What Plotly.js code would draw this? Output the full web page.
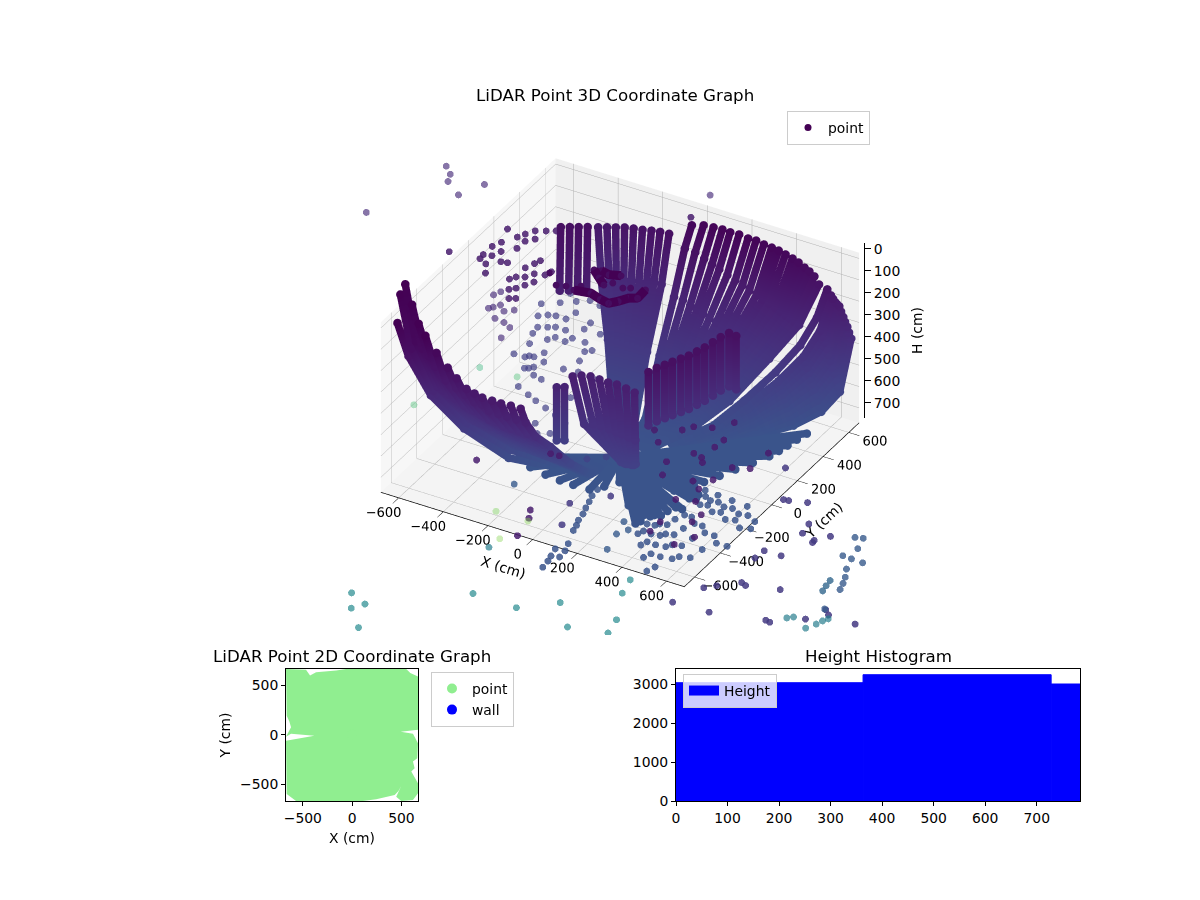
<!DOCTYPE html>
<html>
<head>
<meta charset="utf-8">
<script src="https://cdn.plot.ly/plotly-3.0.1.min.js"></script>
<style>body{margin:0;background:#fff}</style>
</head>
<body>
<div id="graph" style="width:1200px;height:900px"></div>
<script>
/* ---------------- 3D: scan fans, null splits one fan from the next ---------------- */
const shortX = [-529,-404,null,-499,-374,null,-469,-344,null,-439,-314];
const shortY = [457,232,null,475,250,null,492,267,null,510,285];
const shortH = [120,250,null,120,250,null,120,250,null,120,250];

const backX = [
  -467,-397,-257,-140,-47,null,
  -427,-363,-235,-128,-43,null,
  -388,-330,-213,-116,-39,null,
  -348,-296,-191,-104,-35,null,
  -308,-262,-169,-92,-31,null,
  -268,-228,-147,-80,-27,null,
  -228,-194,-125,-68,-23,null,
  -189,-161,-104,-57,-19,null,
  -149,-127,-82,-45,-15];
const backY = [
  640,544,352,192,64,null,640,544,352,192,64,null,640,544,352,192,64,null,
  640,544,352,192,64,null,640,544,352,192,64,null,640,544,352,192,64,null,
  640,544,352,192,64,null,640,544,352,192,64,null,640,544,352,192,64];
const backH = [
  204,379,500,730,765,null,
  191,366,500,730,765,null,
  179,354,500,730,765,null,
  166,341,500,730,765,null,
  158,333,500,730,765,null,
  151,326,500,730,765,null,
  142,317,500,730,765,null,
  135,310,500,730,765,null,
  131,306,500,730,765];

const rightX = [
  -47,-42,-35,-26,-16,-7,null,
  6,5,5,3,2,1,null,
  50,45,38,28,18,8,null,
  90,81,68,50,32,14,null,
  125,113,94,69,44,19,null,
  165,149,124,91,58,25,null,
  205,185,154,113,72,31,null,
  241,217,181,133,84,36,null,
  276,248,207,152,97,41,null,
  311,280,233,171,109,47,null,
  342,308,257,188,120,51,null,
  373,336,280,205,131,56,null,
  404,364,303,222,141,61,null,
  431,388,323,237,151,65,null,
  458,412,344,252,160,69,null,
  480,432,360,264,168,72,null,
  502,452,377,276,176,75,null,
  523,471,392,288,183,78];
const rightY = [
  640,576,480,352,224,96,null,640,576,480,352,224,96,null,640,576,480,352,224,96,null,
  640,576,480,352,224,96,null,640,576,480,352,224,96,null,640,576,480,352,224,96,null,
  640,576,480,352,224,96,null,640,576,480,352,224,96,null,640,576,480,352,224,96,null,
  640,576,480,352,224,96,null,640,576,480,352,224,96,null,640,576,480,352,224,96,null,
  640,576,480,352,224,96,null,640,576,480,352,224,96,null,640,576,480,352,224,96,null,
  640,576,480,352,224,96,null,640,576,480,352,224,96,null,640,576,480,352,224,96];
const rightH = [
  58,130,300,500,720,760,null,
  41,132,302,501,720,760,null,
  36,149,315,511,719,760,null,
  33,162,326,519,718,760,null,
  35,176,336,526,718,760,null,
  32,191,348,535,717,760,null,
  38,204,359,543,716,760,null,
  36,217,369,551,715,760,null,
  43,231,380,558,715,760,null,
  46,242,389,565,714,760,null,
  50,254,398,572,714,760,null,
  58,265,407,578,713,760,null,
  67,276,416,585,712,760,null,
  77,286,423,590,712,760,null,
  92,297,432,597,711,760,null,
  103,305,438,601,711,760,null,
  119,312,444,606,710,760,null,
  150,320,450,610,710,760];

const cornerX = [
  560,532,487,420,336,252,140,null,
  575,546,500,431,345,259,144,null,
  582,553,506,437,350,262,146,null,
  590,561,513,443,354,266,148,null,
  597,568,519,448,358,269,149,null,
  605,575,526,454,363,272,151,null,
  612,582,532,459,367,275,153,null,
  620,589,539,465,372,279,155,null,
  627,596,545,470,376,282,157,null,
  635,603,552,476,381,286,159,null,
  642,610,558,482,385,289,161,null,
  650,618,566,488,390,293,163];
const cornerY = [
  640,608,557,480,384,288,160,null,
  642,610,559,482,385,289,161,null,
  646,614,562,485,388,291,162,null,
  650,618,566,488,390,293,163,null,
  652,620,568,490,391,294,163,null,
  655,622,570,491,393,295,164,null,
  657,624,572,493,394,296,164,null,
  660,627,574,495,396,297,165,null,
  662,629,576,497,397,298,165,null,
  665,632,579,499,399,299,166,null,
  667,634,581,501,400,300,167,null,
  670,637,583,503,402,302,168];
const cornerH = [
  161,285,400,505,610,700,750,null,
  185,341,450,545,635,711,753,null,
  201,369,475,565,648,716,755,null,
  217,397,500,585,660,722,756,null,
  225,424,525,605,674,728,757,null,
  234,452,550,625,688,734,759,null,
  258,480,575,645,701,739,760,null,
  282,508,600,665,715,745,762,null,
  304,536,625,685,727,750,763,null,
  326,564,650,705,740,756,765,null,
  352,592,675,725,752,762,766,null,
  379,620,700,745,765,768,768];

const leftX = [
  -73,-69,-62,-51,-37,-22,-9,null,
  -117,-111,-99,-82,-59,-35,-14,null,
  -161,-153,-137,-113,-81,-48,-19,null,
  -201,-191,-171,-141,-101,-60,-24,null,
  -245,-233,-208,-172,-123,-74,-29,null,
  -280,-266,-238,-196,-140,-84,-34,null,
  -316,-300,-269,-221,-158,-95,-38,null,
  -360,-342,-306,-252,-180,-108,-43,null,
  -400,-380,-340,-280,-200,-120,-48,null,
  -450,-428,-383,-315,-225,-135,-54,null,
  -500,-475,-425,-350,-250,-150,-60,null,
  -530,-504,-451,-371,-265,-159,-64,null,
  -560,-532,-476,-392,-280,-168,-67,null,
  -590,-561,-502,-413,-295,-177,-71,null,
  -612,-581,-520,-428,-306,-184,-73,null,
  -625,-594,-531,-438,-313,-188,-75];
const leftY = [
  -647,-615,-550,-453,-324,-194,-78,null,-647,-615,-550,-453,-324,-194,-78,null,
  -647,-615,-550,-453,-324,-194,-78,null,-647,-615,-550,-453,-324,-194,-78,null,
  -647,-615,-550,-453,-324,-194,-78,null,-647,-615,-550,-453,-324,-194,-78,null,
  -647,-615,-550,-453,-324,-194,-78,null,-647,-615,-550,-453,-324,-194,-78,null,
  -647,-615,-550,-453,-324,-194,-78,null,-647,-615,-550,-453,-324,-194,-78,null,
  -647,-615,-550,-453,-324,-194,-78,null,-647,-615,-550,-453,-324,-194,-78,null,
  -647,-615,-550,-453,-324,-194,-78,null,-647,-615,-550,-453,-324,-194,-78,null,
  -647,-615,-550,-453,-324,-194,-78,null,-647,-615,-550,-453,-324,-194,-78];
const leftH = [
  199,280,380,480,625,745,768,null,
  199,280,380,480,625,745,768,null,
  203,280,380,480,625,745,768,null,
  203,280,380,480,625,745,768,null,
  203,280,380,480,625,745,768,null,
  195,260,370,480,625,740,768,null,
  185,260,370,480,625,740,768,null,
  150,240,360,478,623,738,768,null,
  113,220,350,475,622,737,768,null,
  60,200,340,470,620,735,768,null,
  -4,150,320,470,620,735,768,null,
  -50,110,310,470,620,730,768,null,
  -130,85,300,470,620,728,768,null,
  -216,60,290,466,620,725,768,null,
  -161,100,315,490,650,745,768,null,
  -23,140,340,520,690,765,770];

const nearX = [-106,-106,null,-80,-80,null,-53,26,179,null,-27,56,192,null,7,90,202,null,48,128,209,null,88,162,216,null,125,189,226,null,170,223,233,null,214,257,236];
const nearY = [-309,-309,null,-293,-293,null,-277,-325,-304,null,-254,-308,-305,null,-242,-305,-307,null,-244,-308,-303,null,-246,-314,-300,null,-242,-315,-302,null,-249,-321,-298,null,-258,-327,-288];
const nearH = [300,549,null,300,549,null,250,420,560,null,250,420,560,null,250,420,560,null,250,420,560,null,250,420,560,null,250,420,560,null,250,420,560,null,250,420,560];

const blockX = [286,286,null,299,299,null,315,315,null,330,330,null,347,347,null,363,363,null,375,375,null,387,387,null,396,396,null,404,404,null,417,417,null,452,452];
const blockY = [-276,-276,null,-234,-234,null,-199,-199,null,-165,-165,null,-129,-129,null,-95,-95,null,-53,-53,null,-13,-13,null,35,35,null,82,82,null,124,124,null,119,119];
const blockH = [120,370,null,120,370,null,120,370,null,120,370,null,120,370,null,120,370,null,120,370,null,120,370,null,120,370,null,120,370,null,120,370,null,120,370];

const floorX = [
  288,29,null,296,30,null,285,29,null,312,31,null,321,32,null,345,35,null,351,35,null,
  366,37,null,393,39,null,379,38,null,403,40,null,370,37,null,396,40,null,350,35,null,
  370,37,null,430,43,null,497,50,null,520,52,null,542,54,null,
  11,1,null,-121,-12,null,86,9,null,117,12,null,250,25,null,300,30,null,
  -268,-27,null,-190,-19,null,-60,-6,null,50,5,null,-340,-34,null,
  400,40,null,465,47,null,510,51,null,530,53,null,330,33,null,300,30,null,270,27,null,200,20];
const floorY = [
  -380,-38,null,-356,-36,null,-313,-31,null,-307,-31,null,-291,-29,null,-282,-28,null,-240,-24,null,
  -201,-20,null,-200,-20,null,-119,-12,null,-110,-11,null,-66,-7,null,-79,-8,null,-33,-3,null,
  11,1,null,150,15,null,298,30,null,400,40,null,512,51,null,
  -257,-26,null,-258,-26,null,-154,-15,null,-51,-5,null,-250,-25,null,-100,-10,null,
  -233,-23,null,-250,-25,null,-260,-26,null,-210,-21,null,-190,-19,null,
  80,8,null,225,23,null,350,35,null,455,46,null,-60,-6,null,-160,-16,null,-210,-21,null,-280,-28];
const floorH = [
  770,770,null,770,770,null,770,770,null,770,770,null,770,770,null,770,770,null,770,770,null,
  770,770,null,770,770,null,770,770,null,770,770,null,770,770,null,770,770,null,770,770,null,
  770,770,null,770,770,null,770,770,null,770,770,null,770,770,null,
  770,770,null,770,770,null,770,770,null,770,770,null,770,770,null,770,770,null,
  770,770,null,770,770,null,770,770,null,770,770,null,770,770,null,
  770,770,null,770,770,null,770,770,null,770,770,null,770,770,null,770,770,null,770,770,null,770,770];

const crescentX = [-243,-175,-121,-79,-54,-30,0,-3,null,-248,-202,-161,null,-221,-180,-136];
const crescentY = [63,77,57,48,79,119,136,203,null,229,188,153,null,237,227,244];
const crescentH = [100,100,100,100,100,100,100,100,null,100,100,100,null,100,100,100];

/* ---------------- 3D: single points ---------------- */
const gridX = [
  497,437,383,333,288, 510,449,393,342,296, 491,432,378,329,285, 538,473,414,360,312,
  554,488,427,371,321, 595,524,458,399,345, 606,533,467,406,351, 631,555,486,423,366,
  678,597,522,454,393, 654,576,504,438,379, 695,612,535,466,403, 638,561,491,427,370,
  683,601,526,458,396, 603,531,464,404,350,
  133,128,120,109,153,149,134,104,96,84,77,65,54,42,38];
const gridY = [
  -655,-576,-504,-439,-380, -613,-539,-472,-411,-356, -539,-474,-415,-361,-313, -529,-466,-407,-354,-307,
  -502,-442,-387,-336,-291, -487,-429,-375,-326,-282, -413,-363,-318,-277,-240, -346,-304,-266,-232,-201,
  -345,-304,-266,-231,-200, -206,-181,-159,-138,-119, -190,-167,-146,-127,-110, -113,-99,-87,-76,-66,
  -137,-121,-105,-92,-79, -57,-50,-44,-38,-33,
  -833,-784,-746,-694,-736,-687,-636,-544,-506,-470,-423,-379,-334,-291,-242];
const gridH = [
  770,770,770,770,770, 770,770,770,770,770, 770,770,770,770,770, 770,770,770,770,770,
  770,770,770,770,770, 770,770,770,770,770, 770,770,770,770,770, 770,770,770,770,770,
  770,770,770,770,770, 770,770,770,770,770, 770,770,770,770,770, 770,770,770,770,770,
  770,770,770,770,770, 770,770,770,770,770,
  770,770,770,770,770,770,770,770,770,770,770,770,770,770,770];

const clusterX = [-243,-234,-175,-121,-79,-54,-30,0,-3,-248,-202,-161,-180,-221,-136,-138,-86,-284,-387,-60,-321];
const clusterY = [63,102,77,57,48,79,119,136,203,229,188,153,227,237,244,183,171,73,123,186,60];
const clusterH = [100,100,100,100,100,100,100,100,100,100,100,100,100,100,100,100,100,100,100,100,100];

const darkX = [
  -896,-781,-644,-611,-681,-652,-703,-678,-719,-680,-754,-722,-686,-770,-738,-771,-767,-729,-697,-660,
  -557,-566,-530,-502,-582,-550,-521,-580,-540,-504,-595,-560,-527,-490,-480,
  435,491,589,623,651,692,713,747,811,831,895,901,699,704,677,621,555,528,796,755,829,896,784,783,891,954,912,
  -56,304,329,353,170,207,-206];
const darkY = [
  226,480,543,563,522,471,483,438,449,378,386,328,264,342,284,274,242,221,163,270,
  347,317,253,201,273,215,164,198,128,64,172,107,50,267,299,
  -487,-556,-661,-751,-556,-567,-597,-730,-684,-570,-542,-410,-477,-415,-286,-361,-391,-433,-769,-878,-852,-924,-1048,-1126,-986,-1077,-1161,
  -1019,-1226,-1280,-1411,-836,-832,909];
const darkH = [
  224,224,224,224,224,224,224,224,224,224,224,224,224,224,224,224,224,224,224,224,
  224,224,224,224,224,224,224,224,224,224,224,224,224,224,224,
  224,224,224,224,224,224,224,224,224,224,224,224,224,224,224,224,224,224,224,224,224,224,224,224,224,224,224,
  224,224,224,224,224,224,224];

const lilacX = [-1420,-1317,-1274,-1256,-1173,-1123,-325,-683,-636,-696,-653,-607,-602,-562,-572,-524,-665,-516];
const lilacY = [491,934,891,842,779,894,1265,257,174,224,147,80,142,72,169,52,131,-29];
const lilacH = [360,360,360,360,360,360,360,360,360,360,360,360,360,360,360,360,360,360];

const echoX = [
  -657,-624,-585,-594,-551,-508,-564,-525,-489,-519,-480,-441,-579,-553,-510,-468,-521,-482,-491,-455,-426,-471,-439,-569,
  -385,-437,-428,-421,-371,-339,-318,-323,-349,-354,-422,-547,-508,-636,-597,-596,-504,-453,-362,-348,-287,-208,
  -374,-327,-268,-210,-148,-221,-152,-75,-13,-248,-162,-205,54,111];
const echoY = [
  527,445,374,470,393,316,480,409,345,480,409,338,326,256,179,101,164,93,182,118,67,227,169,162,
  56,-33,372,452,371,313,334,245,451,517,503,609,538,641,570,648,642,629,572,163,173,159,
  -65,-88,-114,-139,-171,-1,-46,-103,-135,-229,-264,-290,-351,-301];
const echoH = [
  560,560,560,560,560,560,560,560,560,560,560,560,560,560,560,560,560,560,560,560,560,560,560,560,
  560,560,560,560,560,560,560,560,560,560,560,560,560,560,560,560,560,560,560,560,560,560,
  560,560,560,560,560,560,560,560,560,560,560,560,560,560];

const nearDotX = [899,952,988,1058,1061,1085,1216,1023,1098,1018,1154,1156,1089,1077,996,925,904,797,1194,1277,1298,1407,1442,1470,1592,249,198,310,450];
const nearDotY = [-1152,-1002,-964,-1144,-896,-907,-865,-654,-653,-717,-493,-509,-471,-401,-270,-294,-298,-97,-436,-1084,-1089,-1000,-903,-930,-935,-884,-735,-611,-1720];
const nearDotH = [504,504,504,504,504,504,504,504,504,504,504,504,504,504,504,504,504,504,504,504,504,504,504,504,504,504,504,504,504];

const farX = [189,208,233,232,-315,1178,1088,1048,1140,1073,1023,1054,1108,1133,1148,1160,999,992,987];
const farY = [-298,-389,-341,-503,-277,-453,-89,-86,-92,-13,52,62,-162,-215,-258,-302,-158,-119,-79];
const farH = [840,840,840,840,840,840,840,840,840,840,840,840,840,840,840,840,980,980,980];

const tealX = [-495,761,780,861,882,892,904,-901,-816,-847,-753,-490,-293,-164,-52,87,106,11,-10];
const tealY = [-161,-24,-5,-51,-5,27,51,-525,-569,-621,-728,-294,-298,-181,-319,-179,-278,-2,96];
const tealH = [1260,1260,1260,1260,1260,1260,1260,1400,1400,1400,1400,1400,1400,1400,1400,1400,1400,1400,1400];

const limeX = [-1902,-1655,-1707,-1458,-1358,-1390];
const limeY = [1698,2072,1872,1566,1641,1477];
const limeH = [2100,2100,1960,2380,2436,2436];

/* ---------------- 2D outline and histogram ---------------- */
const blobX = [-671,-468,-427,-366,-163,-61,549,590,668,668,492,617,668,661,617,634,600,668,668,617,498,447,498,470,431,244,108,-569,-664,-671,-383,-502,-620,-671,-620,-637,-664,-671];
const blobY = [668,661,603,634,654,668,668,627,593,51,31,10,-85,-237,-271,-339,-373,-492,-593,-661,-671,-627,-519,-570,-610,-654,-671,-671,-600,-61,-10,-3,10,-20,78,136,193,668];

const histLeft = [0, 363, 728];
const histWidth = [363, 365, 56];
const histCount = [3033, 3238, 3000];

const heightTicks = [0, 100, 200, 300, 400, 500, 600, 700];

/* ---------------- traces ---------------- */
const fanX = [].concat(shortX, [null], backX, [null], rightX, [null], cornerX, [null], leftX, [null], nearX, [null], blockX, [null], floorX);
const fanY = [].concat(shortY, [null], backY, [null], rightY, [null], cornerY, [null], leftY, [null], nearY, [null], blockY, [null], floorY);
const fanH = [].concat(shortH, [null], backH, [null], rightH, [null], cornerH, [null], leftH, [null], nearH, [null], blockH, [null], floorH);

const CMAX = 3000;
function dots(x, y, z, opacity) {
  return { type: "scatter3d", mode: "markers", x, y, z, scene: "scene2", showlegend: false, hoverinfo: "skip",
    marker: { size: 4, color: z, colorscale: "Viridis", cmin: 0, cmax: CMAX, opacity, line: { width: 0 } } };
}

const font = { family: "DejaVu Sans", size: 13.9, color: "#000" };
const tick3d = { family: "DejaVu Sans", size: 12.5, color: "#000" };
const titleFont = { family: "DejaVu Sans", size: 16.7, color: "#000" };

const traces = [
  { type: "scatter3d", mode: "markers", x: [0], y: [0], z: [300], scene: "scene", showlegend: false, hoverinfo: "skip",
    marker: { size: 1, opacity: 0 } },
  { type: "scatter3d", mode: "lines+markers", x: fanX, y: fanY, z: fanH, scene: "scene2", showlegend: false, hoverinfo: "skip",
    connectgaps: false, line: { width: 15, color: fanH, colorscale: "Viridis", cmin: 0, cmax: CMAX },
    marker: { size: 5, color: fanH, colorscale: "Viridis", cmin: 0, cmax: CMAX, line: { width: 0 } } },
  { type: "scatter3d", mode: "lines", x: crescentX, y: crescentY, z: crescentH, scene: "scene2", showlegend: false, hoverinfo: "skip",
    connectgaps: false, line: { width: 18, color: "#440154" } },
  dots(gridX, gridY, gridH, 0.85),
  dots(echoX, echoY, echoH, 0.7),
  dots(darkX, darkY, darkH, 0.85),
  dots(clusterX, clusterY, clusterH, 1),
  dots(lilacX, lilacY, lilacH, 0.65),
  dots(nearDotX, nearDotY, nearDotH, 0.85),
  dots(farX, farY, farH, 0.8),
  dots(tealX, tealY, tealH, 0.7),
  dots(limeX, limeY, limeH, 0.4),
  { type: "scatter", x: [null], y: [null], mode: "markers", name: "point", legend: "legend",
    marker: { color: "#440154", size: 7 }, xaxis: "x3", yaxis: "y3" },
  { type: "scatter", x: blobX, y: blobY, fill: "toself", fillcolor: "#90ee90", mode: "lines",
    line: { width: 0 }, showlegend: false, hoverinfo: "skip", xaxis: "x", yaxis: "y" },
  { type: "scatter", x: [0], y: [0], mode: "markers", name: "point", legend: "legend2",
    marker: { color: "#90ee90", size: 10 }, xaxis: "x", yaxis: "y" },
  { type: "scatter", x: [null], y: [null], mode: "markers", name: "wall", legend: "legend2",
    marker: { color: "blue", size: 10 }, xaxis: "x", yaxis: "y" },
  { type: "bar", x: histLeft, y: histCount, width: histWidth, offset: 0, showlegend: false, hoverinfo: "skip",
    marker: { color: "blue", line: { color: "blue", width: 1 } }, xaxis: "x2", yaxis: "y2" },
  { type: "scatter", x: [null], y: [null], mode: "lines", name: "Height", legend: "legend3",
    line: { color: "blue", width: 10 }, xaxis: "x2", yaxis: "y2" }
];

const axis3d = { showspikes: false, gridcolor: "#b0b0b0", gridwidth: 1, showbackground: true, linecolor: "#000", linewidth: 1.5,
  ticks: "outside", tickcolor: "#000", ticklen: 12, tickfont: tick3d, tickangle: 0, zeroline: false, showline: true };
const hidden3d = { visible: false, showspikes: false };
const axis2d = { ticks: "outside", ticklen: 4, tickcolor: "#000", mirror: true, showline: true, linecolor: "#000",
  linewidth: 1, showgrid: false, zeroline: false, tickfont: font };
const camera = { eye: { x: 0.72, y: -1.25, z: 0.926 }, center: { x: 0, y: 0, z: 0 }, up: { x: 0, y: 0, z: 1 },
  projection: { type: "orthographic" } };
const sceneDomain = { x: [347 / 1200, 893 / 1200], y: [265 / 900, 790 / 900] };
const legendBox = { bgcolor: "rgba(255,255,255,0.8)", bordercolor: "#ccc", borderwidth: 1, xanchor: "left", yanchor: "top", font };
const titleNote = { xref: "paper", yref: "paper", showarrow: false, font: titleFont, xanchor: "center", yanchor: "middle" };

const layout = {
  width: 1200, height: 900, margin: { l: 0, r: 0, t: 0, b: 0 }, paper_bgcolor: "#fff", plot_bgcolor: "#fff", font,
  annotations: [
    { ...titleNote, text: "LiDAR Point 3D Coordinate Graph", x: 615 / 1200, y: 1 - 95 / 900 },
    { ...titleNote, text: "LiDAR Point 2D Coordinate Graph", x: 352 / 1200, y: 1 - 656 / 900 },
    { ...titleNote, text: "Height Histogram", x: 878 / 1200, y: 1 - 656 / 900 }
  ],
  legend: { ...legendBox, x: 787 / 1200, y: 1 - 111 / 900 },
  legend2: { ...legendBox, x: 431 / 1200, y: 1 - 672 / 900 },
  legend3: { ...legendBox, x: 683 / 1200, y: 1 - 674 / 900 },
  scene: {
    domain: sceneDomain, aspectmode: "manual", aspectratio: { x: 1.334, y: 1.334, z: 0.77 }, camera,
    xaxis: { ...axis3d, range: [-680, 680], title: { text: "X (cm)", font }, dtick: 200, backgroundcolor: "#f7f7f7" },
    yaxis: { ...axis3d, range: [-680, 680], title: { text: "Y (cm)", font }, dtick: 200, backgroundcolor: "#f0f0f0" },
    zaxis: { ...axis3d, range: [770, -27], title: { text: "" }, dtick: 100, showline: false, showticklabels: false, ticks: "", backgroundcolor: "#f4f4f4" }
  },
  scene2: {
    domain: sceneDomain, aspectmode: "manual", aspectratio: { x: 8.004, y: 8.004, z: 4.62 }, camera, bgcolor: "rgba(0,0,0,0)",
    xaxis: { ...hidden3d, range: [-4080, 4080] },
    yaxis: { ...hidden3d, range: [-4080, 4080] },
    zaxis: { ...hidden3d, range: [2762.5, -2019.5] }
  },
  xaxis: { ...axis2d, domain: [286 / 1200, 418 / 1200], range: [-671, 668], anchor: "y", tickvals: [-500, 0, 500],
    ticktext: ["\u2212500", "0", "500"], title: { text: "X (cm)", font, standoff: 8 } },
  yaxis: { ...axis2d, domain: [99 / 900, 231 / 900], range: [-671, 668], anchor: "x", tickvals: [-500, 0, 500],
    ticktext: ["\u2212500", "0", "500"], title: { text: "Y (cm)", font, standoff: 6 } },
  xaxis2: { ...axis2d, domain: [676 / 1200, 1080 / 1200], range: [0, 784], anchor: "y2", tickvals: heightTicks },
  yaxis2: { ...axis2d, domain: [99 / 900, 231 / 900], range: [0, 3385], anchor: "x2", dtick: 1000 },
  xaxis3: { domain: [858 / 1200, 864 / 1200], visible: false, anchor: "y3", fixedrange: true },
  yaxis3: { domain: [(900 - 418) / 900, (900 - 243) / 900], range: [770, -27], anchor: "x3", side: "right", tickvals: heightTicks,
    ticks: "outside", ticklen: 6, tickcolor: "#000", showline: true, linecolor: "#000", linewidth: 1, showgrid: false, zeroline: false,
    tickfont: font, title: { text: "H (cm)", font, standoff: 12 } }
};

Plotly.newPlot("graph", traces, layout, { displayModeBar: false });
</script>
</body>
</html>
